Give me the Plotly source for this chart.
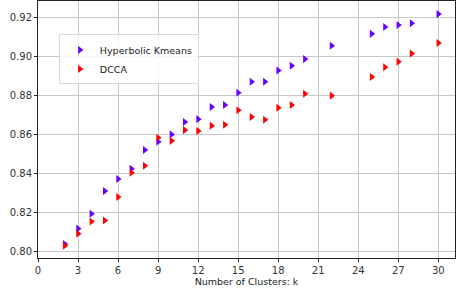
import plotly.graph_objects as go

k_hyp = [2, 3, 4, 5, 6, 7, 8, 9, 10, 11, 12, 13, 14, 15, 16, 17, 18, 19, 20, 22, 25, 26, 27, 28, 30]
hyp = [0.8039, 0.8118, 0.8194, 0.8310, 0.8372, 0.8424, 0.8520, 0.8562, 0.8600, 0.8663,
       0.8678, 0.8740, 0.8750, 0.8813, 0.8869, 0.8869, 0.8927, 0.8951, 0.8985, 0.9053,
       0.9114, 0.9149, 0.9159, 0.9168, 0.9215]
k_dcca = k_hyp
dcca = [0.8031, 0.8092, 0.8155, 0.8160, 0.8280, 0.8404, 0.8440, 0.8583, 0.8567, 0.8622,
        0.8617, 0.8644, 0.8649, 0.8723, 0.8689, 0.8675, 0.8736, 0.8750, 0.8808, 0.8798,
        0.8893, 0.8943, 0.8971, 0.9014, 0.9067]
x_ticks = [0, 3, 6, 9, 12, 15, 18, 21, 24, 27, 30]
y_ticks = [0.80, 0.82, 0.84, 0.86, 0.88, 0.90, 0.92]

fig = go.Figure()
fig.add_trace(go.Scatter(x=k_hyp, y=hyp, mode="markers", name="Hyperbolic Kmeans",
                         marker=dict(symbol="triangle-right", size=7, color="#6600ff", line=dict(width=0))))
fig.add_trace(go.Scatter(x=k_dcca, y=dcca, mode="markers", name="DCCA",
                         marker=dict(symbol="triangle-right", size=7, color="#ff0000", line=dict(width=0))))

axis_common = dict(showgrid=True, gridcolor="#c8c8c8", gridwidth=1, zeroline=False,
                   showline=True, linecolor="#222", linewidth=1, mirror=True,
                   ticks="outside", ticklen=3, tickcolor="#222", automargin=False,
                   tickfont=dict(family="DejaVu Sans", size=10, color="#333"))
fig.update_xaxes(range=[0, 31.25], tickvals=x_ticks, ticktext=[str(v) for v in x_ticks],
                 title=dict(text="Number of Clusters: k", font=dict(family="DejaVu Sans", size=9.5, color="#222"), standoff=0),
                 **axis_common)
fig.update_yaxes(range=[0.7968, 0.9282], tickvals=y_ticks, ticktext=[f"{v:.2f}" for v in y_ticks],
                 **axis_common)

fig.update_layout(
    width=457, height=290,
    margin=dict(l=38, r=2, t=1, b=32),
    paper_bgcolor="white", plot_bgcolor="white",
    showlegend=True,
    legend=dict(x=0.05, y=0.87, xanchor="left", yanchor="top",
                bgcolor="rgba(255,255,255,0.85)", bordercolor="#d8d8d8", borderwidth=1,
                font=dict(family="DejaVu Sans", size=9.5, color="#222"),
                tracegroupgap=0, itemwidth=30),
)
fig.write_html("out.html", config={"displayModeBar": False},
               post_script="document.body.style.margin='0';document.body.style.padding='0';")
